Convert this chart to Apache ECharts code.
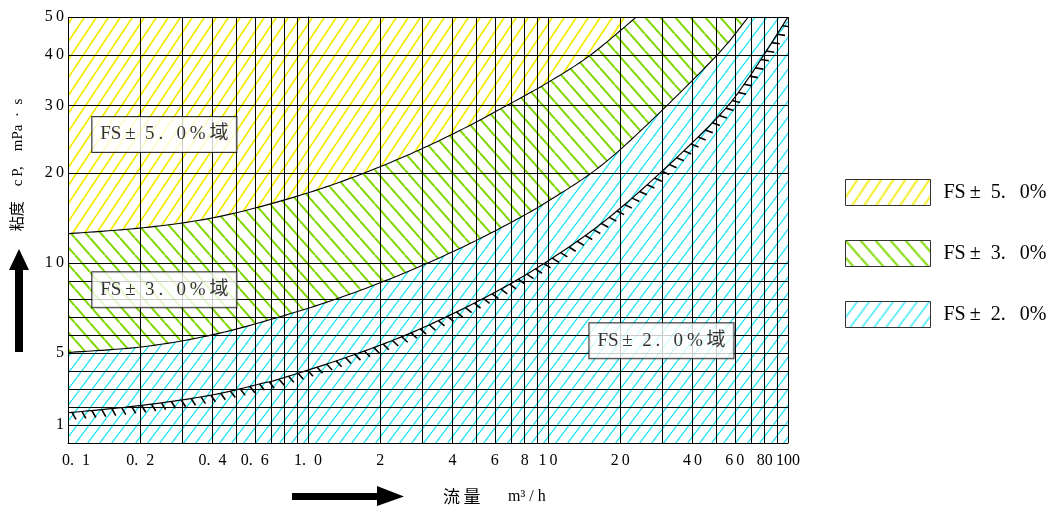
<!DOCTYPE html>
<html><head><meta charset="utf-8">
<script src="https://cdn.jsdelivr.net/npm/echarts@6/dist/echarts.min.js"></script>
<style>html,body{margin:0;padding:0;background:#fff}#c{width:1054px;height:507px}</style>
</head><body><div id="c"></div>
<script>
// ---------- data ----------
const flowTicks = [0.1,0.2,0.3,0.4,0.5,0.6,0.7,0.8,0.9,1,2,3,4,5,6,7,8,9,10,20,30,40,50,60,70,80,90,100];
const flowLabelValues = [0.1,0.2,0.4,0.6,1,2,4,6,8,10,20,40,60,80,100];
const flowLabelTexts = ['\u2002\u20020.\u20021','0.\u20022','0.\u20024','0.\u20026','1.\u20020','2','4','6','8','1\u20090','2\u20090','4\u20090','6\u20090','80','100'];
const viscTicks = [0,1,2,3,4,5,6,7,8,9,10,20,30,40,50];
const viscLabelValues = [1,5,10,20,30,40,50];
const viscLabelTexts = ['1','5','1\u20090','2\u20090','3\u20090','4\u20090','5\u20090'];
// non-uniform viscosity scale (linear 0-10, compressed above)
const viscScaleStops = [0,10,20,30,40,50];
const viscScaleUnits = [0,10,15,18.76,21.57,23.67];

// boundary FS±5.0% / FS±3.0%
const flowA = [0.1,0.206,0.403,0.767,1.363,2.424,4.11,6.64,10.03,15.01,23.33];
const viscA = [13.26,13.92,15.03,16.88,19.01,22.18,25.95,29.87,34.57,39.93,50];
// boundary FS±3.0% / FS±2.0%
const flowB = [0.1,0.206,0.403,0.767,1.363,2.424,4.11,6.64,10.03,16.52,27.2,50.74,68.33];
const viscB = [5.03,5.35,6.02,7.02,8.08,9.35,11.39,14.17,16.89,21.0,27.88,40,50];
// lower limit (hatched)
const flowC = [0.1,0.206,0.403,0.633,0.767,1.363,2.424,4.11,6.64,10.03,16.52,27.2,49.8,67.7,100];
const viscC = [1.68,2.1,2.68,3.29,3.57,4.64,5.87,7.25,8.69,10.26,14.3,19.21,27.88,35.06,50];

const seriesNames = ['FS\u2009±\u20025.\u2002\u20090%','FS\u2009±\u20023.\u2002\u20090%','FS\u2009±\u20022.\u2002\u20090%'];
const regionTexts = ['FS\u2009±\u20025\u2009.\u2002\u20090\u2009%\u2009域','FS\u2009±\u20023\u2009.\u2002\u20090\u2009%\u2009域','FS\u2009±\u20022\u2009.\u2002\u20090\u2009%\u2009域'];
const regionFlow = [0.252,0.252,29.7];
const regionVisc = [25.7,8.52,5.68];

// ---------- helpers ----------
const lx = f => Math.log10(f);
function vy(v){
  for (let i=1;i<viscScaleStops.length;i++){
    if (v<=viscScaleStops[i] || i===viscScaleStops.length-1){
      const a=viscScaleStops[i-1], b=viscScaleStops[i];
      return viscScaleUnits[i-1]+(v-a)/(b-a)*(viscScaleUnits[i]-viscScaleUnits[i-1]);
    }
  }
}
const yTop = vy(50);
function hatch(color,w,h,lw,dir){
  const c=document.createElement('canvas'); c.width=w; c.height=h;
  const g=c.getContext('2d'); g.fillStyle='#fff'; g.fillRect(0,0,w,h);
  g.strokeStyle=color; g.lineWidth=lw;
  for(let k=-1;k<=1;k++){
    g.beginPath();
    if(dir>0){ g.moveTo(k*w,h); g.lineTo(k*w+w,0); }
    else { g.moveTo(k*w,0); g.lineTo(k*w+w,h); }
    g.stroke();
  }
  return {image:c, repeat:'repeat'};
}
const patY = hatch('#f4ec00',12,18,1.8,1);
const patG = hatch('#7ed800',15,17,2,-1);
const patC = hatch('#14e6f2',12,16,1.3,1);

function catmull(p,n){
  const out=[];
  for(let i=0;i<p.length-1;i++){
    const p0=p[Math.max(i-1,0)],p1=p[i],p2=p[i+1],p3=p[Math.min(i+2,p.length-1)];
    for(let s=0;s<n;s++){
      const t=s/n,t2=t*t,t3=t2*t;
      const f=k=>0.5*((2*p1[k])+(-p0[k]+p2[k])*t+(2*p0[k]-5*p1[k]+4*p2[k]-p3[k])*t2+(-p0[k]+3*p1[k]-3*p2[k]+p3[k])*t3);
      out.push([f(0),f(1)]);
    }
  }
  out.push(p[p.length-1]);
  return out;
}
function curvePx(api,fl,vs){ return catmull(fl.map((f,i)=>api.coord([lx(f),vy(vs[i])])),12); }
function corners(api){
  return {tl:api.coord([lx(0.1),yTop]), tr:api.coord([lx(100),yTop]), br:api.coord([lx(100),0]), bl:api.coord([lx(0.1),0])};
}
// region below a boundary curve, continuing along the top edge to the right side
function regionRenderer(fl,vs,pat){
  return (params,api)=>{
    const c=corners(api);
    if(!fl){
      return {type:'polygon',shape:{points:[c.tl,c.tr,c.br,c.bl]},style:{fill:pat,stroke:null}};
    }
    const p=curvePx(api,fl,vs);
    return {type:'group',children:[
      {type:'polygon',shape:{points:p.concat([c.tr,c.br,c.bl])},style:{fill:pat,stroke:null}},
      {type:'polyline',shape:{points:p},style:{stroke:'#000',lineWidth:1.1,fill:null}}
    ]};
  };
}

const serif = '"Liberation Serif","DejaVu Serif","Noto Sans CJK JP",serif';
const cjk = '"Noto Sans CJK JP","Liberation Serif",serif';

const option = {
  animation:false,
  backgroundColor:'#fff',
  grid:{left:68,right:266,top:17,bottom:64},
  xAxis:{
    type:'value', min:-1, max:2, z:5,
    axisLine:{show:true,lineStyle:{color:'#000',width:1}},
    axisTick:{show:false, customValues: flowTicks.map(lx)},
    splitLine:{show:true,lineStyle:{color:'#000',width:1}},
    axisLabel:{
      customValues: flowLabelValues.map(lx),
      showMinLabel:true, showMaxLabel:true, hideOverlap:false,
      formatter:v=>{const i=flowLabelValues.findIndex(f=>Math.abs(lx(f)-v)<1e-6);return i>=0?flowLabelTexts[i]:'';},
      color:'#000', fontFamily:serif, fontSize:16, margin:10
    }
  },
  yAxis:{
    type:'value', min:0, max:yTop, z:5,
    axisLine:{show:true,lineStyle:{color:'#000',width:1}},
    axisTick:{show:false, customValues: viscTicks.map(vy)},
    splitLine:{show:true,lineStyle:{color:'#000',width:1}},
    axisLabel:{
      customValues: viscLabelValues.map(vy),
      showMinLabel:true, showMaxLabel:true, hideOverlap:false,
      formatter:v=>{const i=viscLabelValues.findIndex(f=>Math.abs(vy(f)-v)<1e-6);return i>=0?viscLabelTexts[i]:'';},
      color:'#000', fontFamily:serif, fontSize:16, margin:4
    }
  },
  legend:{
    orient:'vertical', left:840, top:174, itemWidth:85, itemHeight:26, itemGap:34,
    selectedMode:false, icon:'rect',
    textStyle:{fontFamily:serif, fontSize:20, color:'#000', padding:[0,0,0,8]},
    data:[
      {name:seriesNames[0], itemStyle:{color:patY,borderColor:'#333',borderWidth:1}},
      {name:seriesNames[1], itemStyle:{color:patG,borderColor:'#333',borderWidth:1}},
      {name:seriesNames[2], itemStyle:{color:patC,borderColor:'#333',borderWidth:1}}
    ]
  },
  series:[
    {name:seriesNames[0], type:'custom', z:2, clip:true, data:[[lx(0.1),0]],
     renderItem:regionRenderer(null,null,patY)},
    {name:seriesNames[1], type:'custom', z:2, clip:true, data:[[lx(0.1),0]],
     renderItem:regionRenderer(flowA,viscA,patG)},
    {name:seriesNames[2], type:'custom', z:2, clip:true, data:[[lx(0.1),0]],
     renderItem:regionRenderer(flowB,viscB,patC)},
    {type:'custom', z:3, clip:true,
     data:[[lx(flowC[0]),vy(viscC[0])]],
     renderItem:(params,api)=>{
       const sm = curvePx(api,flowC,viscC);
       const children=[{type:'polyline',shape:{points:sm},style:{stroke:'#000',lineWidth:1.2,fill:null}}];
       let acc=0,next=4;
       const a=0.42, len=8, step=10;
       for(let i=1;i<sm.length;i++){
         const x0=sm[i-1][0],y0=sm[i-1][1],x1=sm[i][0],y1=sm[i][1];
         const L=Math.hypot(x1-x0,y1-y0); if(L===0) continue;
         const tx=(x1-x0)/L, ty=(y1-y0)/L, nx=-ty, ny=tx;
         const dx=nx*Math.cos(a)+tx*Math.sin(a), dy=ny*Math.cos(a)+ty*Math.sin(a);
         while(acc+L>=next){
           const t=(next-acc)/L, px=x0+(x1-x0)*t, py=y0+(y1-y0)*t;
           children.push({type:'line',shape:{x1:px,y1:py,x2:px+dx*len,y2:py+dy*len},style:{stroke:'#000',lineWidth:1.6}});
           next+=step;
         }
         acc+=L;
       }
       return {type:'group',children};
     }},
    {type:'scatter', z:10, symbolSize:1, itemStyle:{color:'rgba(0,0,0,0)'},
     data:regionTexts.map((t,i)=>({name:t,value:[lx(regionFlow[i]),vy(regionVisc[i])]})),
     label:{show:true, position:'inside', formatter:p=>p.name, fontFamily:serif, fontSize:19, color:'#000',
       backgroundColor:'#fff', borderColor:'#000', borderWidth:1, padding:[8,8]}}
  ],
  graphic:[
    {type:'text', x:18, y:165, rotation:Math.PI/2,
     style:{text:'粘度\u2003c\u2009P,\u2003mPa\u2002·\u2002s', font:'15px '+serif, fill:'#000', align:'center', verticalAlign:'middle'}},
    {type:'polygon', shape:{points:[[15,352],[23,352],[23,270],[29,270],[19,249],[9,270],[15,270]]}, style:{fill:'#000'}},
    {type:'polygon', shape:{points:[[292,493],[292,500],[377,500],[377,506],[404,496.5],[377,486],[377,493]]}, style:{fill:'#000'}},
    {type:'text', x:443, y:497, style:{text:'流\u2009量', font:'17px '+cjk, fill:'#000', verticalAlign:'middle'}},
    {type:'text', x:508, y:497, style:{text:'m³ / h', font:'16px '+serif, fill:'#000', verticalAlign:'middle'}}
  ]
};
const chart = echarts.init(document.getElementById('c'));
chart.setOption(option);
</script>
</body></html>
